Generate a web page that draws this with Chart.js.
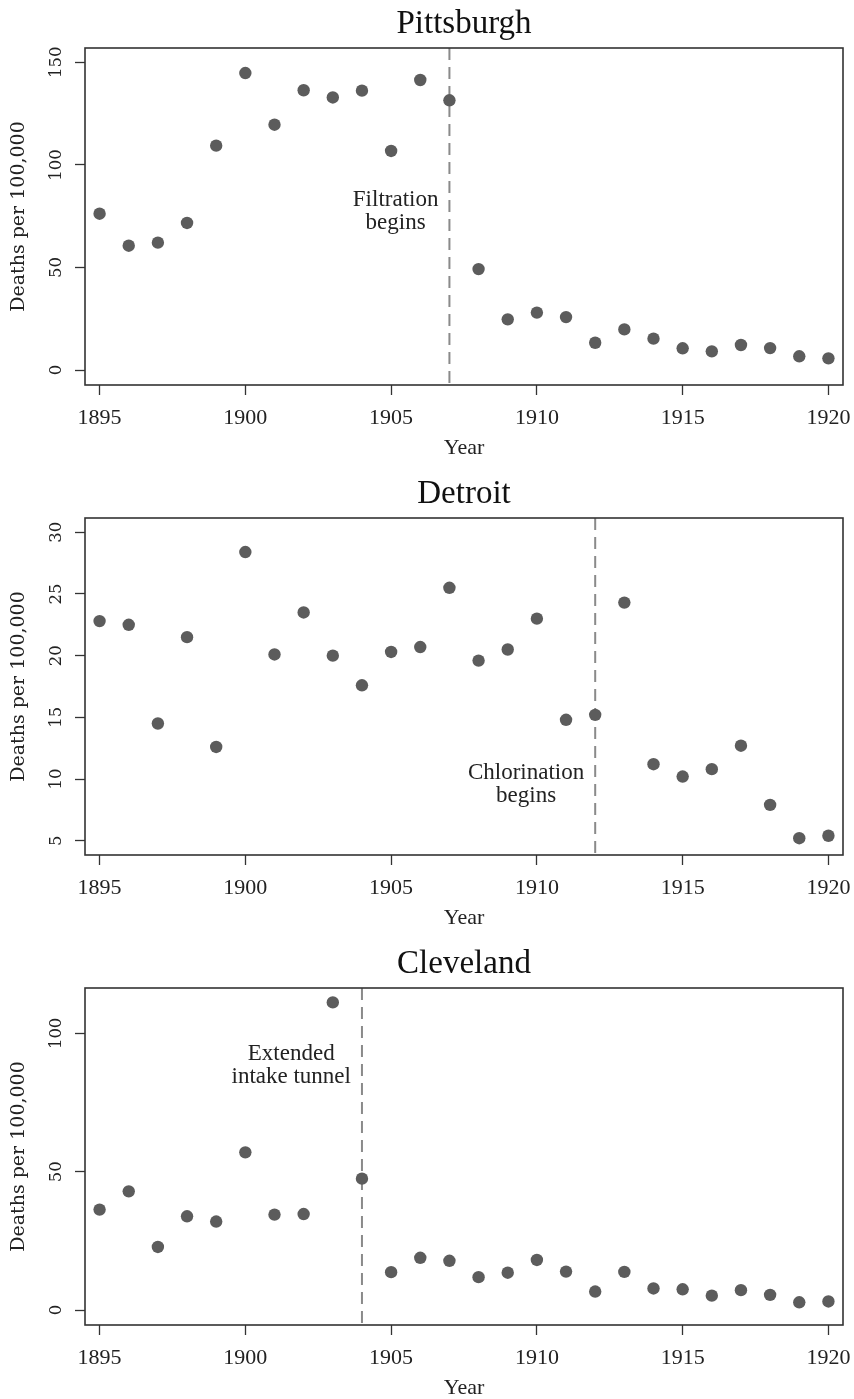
<!DOCTYPE html>
<html>
<head>
<meta charset="utf-8">
<script src="https://cdn.jsdelivr.net/npm/chart.js@4/dist/chart.umd.min.js"></script>
<style>
  html, body { margin: 0; padding: 0; background: #fff; overflow: hidden; }
  #wrap { position: relative; width: 854px; height: 1399px; }
  .panel { position: absolute; left: 0; width: 854px; height: 470px; }
</style>
</head>
<body>
<div id="wrap">
  <div class="panel" style="top:0"><canvas id="pitt"></canvas></div>
  <div class="panel" style="top:470px"><canvas id="det"></canvas></div>
  <div class="panel" style="top:940px"><canvas id="clev"></canvas></div>
</div>
<script>
// ---- data ----
const years = [1895, 1896, 1897, 1898, 1899, 1900, 1901, 1902, 1903, 1904, 1905, 1906, 1907,
               1908, 1909, 1910, 1911, 1912, 1913, 1914, 1915, 1916, 1917, 1918, 1919, 1920];

const pittsburgh = [76.2, 60.6, 62.1, 71.7, 109.4, 144.8, 119.6, 136.4, 132.9, 136.2, 106.8, 141.4, 131.5,
                    49.2, 24.7, 28.0, 25.8, 13.3, 19.8, 15.3, 10.6, 9.1, 12.2, 10.7, 6.7, 5.7];

const detroit = [22.8, 22.5, 14.5, 21.5, 12.6, 28.4, 20.1, 23.5, 20.0, 17.6, 20.3, 20.7, 25.5,
                 19.6, 20.5, 23.0, 14.8, 15.2, 24.3, 11.2, 10.2, 10.8, 12.7, 7.9, 5.2, 5.4];

const cleveland = [36.3, 42.9, 22.8, 33.9, 32.0, 57.0, 34.5, 34.7, 111.2, 47.5, 13.7, 18.9, 17.8,
                   11.9, 13.5, 18.1, 13.9, 6.7, 13.8, 7.8, 7.5, 5.2, 7.2, 5.5, 2.8, 3.1];

const xTicks = [1895, 1900, 1905, 1910, 1915, 1920];
const pittTicks = [0, 50, 100, 150];
const detTicks = [5, 10, 15, 20, 25, 30];
const clevTicks = [0, 50, 100];

// event year + label lines
const pittEvent = { year: 1907, lines: ["Filtration", "begins"], at: 82.9 };
const detEvent = { year: 1912, lines: ["Chlorination", "begins"], at: 10.5 };
const clevEvent = { year: 1904, lines: ["Extended", "intake tunnel"], at: 92.6 };

const DARK = "#333333";
const SERIF = "'Liberation Serif', serif";
const WIDE = "'DejaVu Serif', serif";

// box, dashed line, rotated y labels, note
const panelPlugin = {
  id: "panelExtras",
  beforeDatasetsDraw(chart) {
    const ev = chart.options.plugins.panelExtras.event;
    const { ctx, chartArea } = chart;
    const x = chart.scales.x.getPixelForValue(ev.year);
    ctx.save();
    ctx.strokeStyle = "#8a8a8a";
    ctx.lineWidth = 2;
    ctx.setLineDash([12, 7]);
    ctx.beginPath();
    ctx.moveTo(x, chartArea.top);
    ctx.lineTo(x, chartArea.bottom);
    ctx.stroke();
    ctx.restore();
  },
  afterDraw(chart) {
    const ev = chart.options.plugins.panelExtras.event;
    const { ctx, chartArea } = chart;
    const ys = chart.scales.y;

    ctx.save();
    // frame
    ctx.strokeStyle = DARK;
    ctx.lineWidth = 1.6;
    ctx.strokeRect(chartArea.left, chartArea.top,
                   chartArea.right - chartArea.left, chartArea.bottom - chartArea.top);

    // y tick labels, turned like the original
    ctx.fillStyle = "#222";
    ctx.font = "16.5px " + WIDE;
    ctx.textAlign = "center";
    ctx.textBaseline = "middle";
    ys.ticks.forEach(t => {
      const py = ys.getPixelForValue(t.value);
      ctx.save();
      ctx.translate(57, py);
      ctx.rotate(-Math.PI / 2);
      ctx.fillText(String(t.value), 0, 0);
      ctx.restore();
    });

    // note next to the dashed line
    ctx.font = "23px " + SERIF;
    ctx.fillStyle = "#222";
    const lx = chart.scales.x.getPixelForValue(ev.year);
    const w = Math.max(...ev.lines.map(l => ctx.measureText(l).width));
    const cx = lx - 11 - w / 2;
    const y0 = ys.getPixelForValue(ev.at);
    ev.lines.forEach((l, i) => ctx.fillText(l, cx, y0 + i * 23));
    ctx.restore();
  }
};

function makePanel(id, title, values, yTicks, yMin, yMax, event) {
  const ctx = document.getElementById(id).getContext("2d");
  return new Chart(ctx, {
    type: "scatter",
    data: {
      datasets: [{
        data: years.map((y, i) => ({ x: y, y: values[i] })),
        backgroundColor: "#5c5c5c",
        borderWidth: 0,
        pointRadius: 6.2,
        pointHoverRadius: 6.2
      }]
    },
    plugins: [panelPlugin],
    options: {
      responsive: true,
      maintainAspectRatio: false,
      animation: false,
      events: [],
      layout: { padding: { left: 0, right: 11, top: 0, bottom: 0 } },
      plugins: {
        legend: { display: false },
        tooltip: { enabled: false },
        title: {
          display: true,
          text: title,
          fullSize: false,
          color: "#111",
          font: { family: SERIF, size: 33, weight: "normal" },
          padding: { top: 4.5, bottom: 3.9 }
        },
        panelExtras: { event: event }
      },
      scales: {
        x: {
          type: "linear",
          min: 1894.5,
          max: 1920.5,
          afterBuildTicks: s => { s.ticks = xTicks.map(v => ({ value: v })); },
          afterFit: s => { s.height = 85; s.paddingLeft = 0; s.paddingRight = 0; },
          border: { display: false },
          grid: {
            drawOnChartArea: false,
            drawTicks: true,
            tickLength: 10,
            tickColor: DARK,
            tickWidth: 1.3
          },
          ticks: {
            color: "#222",
            padding: 10,
            maxRotation: 0,
            font: { family: SERIF, size: 22 },
            callback: v => String(v)
          },
          title: {
            display: true,
            text: "Year",
            color: "#222",
            font: { family: SERIF, size: 22 },
            padding: { top: 0, bottom: 9 }
          }
        },
        y: {
          type: "linear",
          min: yMin,
          max: yMax,
          afterBuildTicks: s => { s.ticks = yTicks.map(v => ({ value: v })); },
          afterFit: s => { s.width = 85; s.paddingTop = 0; s.paddingBottom = 0; },
          border: { display: false },
          grid: {
            drawOnChartArea: false,
            drawTicks: true,
            tickLength: 10,
            tickColor: DARK,
            tickWidth: 1.3
          },
          ticks: { display: false },
          title: {
            display: true,
            text: "Deaths per 100,000",
            color: "#222",
            font: { family: WIDE, size: 19 },
            padding: { top: 8, bottom: 0 }
          }
        }
      }
    }
  });
}

makePanel("pitt", "Pittsburgh", pittsburgh, pittTicks, -7.3, 157, pittEvent);
makePanel("det", "Detroit", detroit, detTicks, 3.84, 31.16, detEvent);
makePanel("clev", "Cleveland", cleveland, clevTicks, -5.4, 116.4, clevEvent);
</script>
</body>
</html>
